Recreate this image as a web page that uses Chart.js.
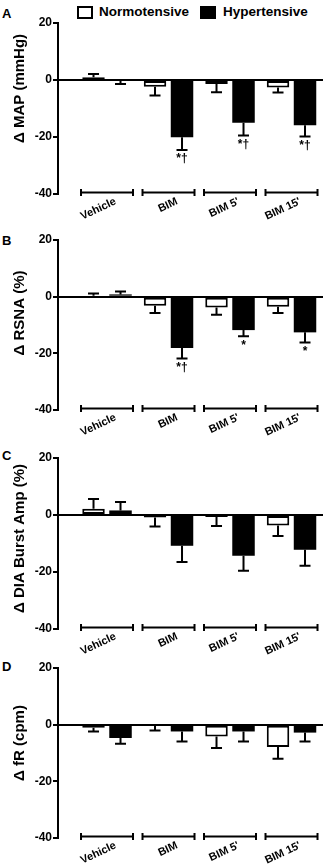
<!DOCTYPE html>
<html>
<head>
<meta charset="utf-8">
<script src="https://cdn.jsdelivr.net/npm/chart.js@4/dist/chart.umd.min.js"></script>
<style>
  html, body { margin:0; padding:0; background:#fff; }
  body { width:326px; height:868px; overflow:hidden; position:relative; font-family:'Liberation Sans', Arial, sans-serif; }
  canvas { position:absolute; left:0; }
  .box { position:absolute; box-sizing:border-box; border:2px solid #000; }
  .txt { position:absolute; font-weight:bold; color:#000; white-space:nowrap; }
</style>
</head>
<body>
<div class="box" style="left:77px;top:6px;width:16px;height:13px;background:#fff"></div>
<div class="txt" style="left:99px;top:4px;font-size:13.5px;line-height:16px">Normotensive</div>
<div class="box" style="left:200px;top:6px;width:16px;height:13px;background:#000"></div>
<div class="txt" style="left:223px;top:4px;font-size:13.5px;line-height:16px">Hypertensive</div>
<div class="txt" style="left:2px;top:6px;font-size:13px;line-height:15px">A</div>
<div class="txt" style="left:2px;top:233px;font-size:13px;line-height:15px">B</div>
<div class="txt" style="left:2px;top:448px;font-size:13px;line-height:15px">C</div>
<div class="txt" style="left:2px;top:659px;font-size:13px;line-height:15px">D</div>
<canvas id="cA" width="326" height="232" style="top:0px"></canvas>
<canvas id="cB" width="326" height="232" style="top:217px"></canvas>
<canvas id="cC" width="326" height="232" style="top:435px"></canvas>
<canvas id="cD" width="326" height="232" style="top:645px"></canvas>
<script>
// ---- data ----
const categories = ['Vehicle', 'BIM', "BIM 5'", "BIM 15'"];
const seriesNames = ['Normotensive', 'Hypertensive'];
const yTicks = [20, 0, -20, -40];

// A: MAP (mmHg)
const mapNormo     = [1.0, -2.4, -1.4, -2.6];
const mapNormoErr  = [1.1, 3.0, 2.9, 1.8];
const mapHyper     = [-0.35, -20.1, -15.0, -15.9];
const mapHyperErr  = [1.05, 4.5, 4.5, 3.9];
const mapNotes     = ['', '*†', '*†', '*†'];

// B: RSNA (%)
const rsnaNormo    = [0.3, -3.2, -3.8, -3.6];
const rsnaNormoErr = [0.8, 2.6, 2.6, 2.2];
const rsnaHyper    = [0.8, -18.1, -11.8, -12.6];
const rsnaHyperErr = [1.0, 3.7, 2.2, 3.6];
const rsnaNotes    = ['', '*†', '*', '*'];

// C: DIA Burst Amp (%)
const diaNormo     = [2.2, -0.9, -0.7, -3.7];
const diaNormoErr  = [3.4, 3.1, 3.2, 3.7];
const diaHyper     = [1.6, -10.8, -14.3, -12.2];
const diaHyperErr  = [3.0, 5.7, 5.3, 5.6];
const diaNotes     = ['', '', '', ''];

// D: fR (cpm)
const frNormo      = [-1.1, -0.3, -4.2, -7.9];
const frNormoErr   = [1.3, 1.8, 4.0, 4.1];
const frHyper      = [-4.7, -2.4, -2.4, -2.8];
const frHyperErr   = [2.0, 3.5, 3.5, 3.1];
const frNotes      = ['', '', '', ''];

// ---- panels ----
const panels = [
  { canvas:'cA', title:'Δ MAP (mmHg)',       normo:mapNormo,  normoErr:mapNormoErr,  hyper:mapHyper,  hyperErr:mapHyperErr,  notes:mapNotes,  xH:38, titleShift:-20 },
  { canvas:'cB', title:'Δ RSNA (%)',          normo:rsnaNormo, normoErr:rsnaNormoErr, hyper:rsnaHyper, hyperErr:rsnaHyperErr, notes:rsnaNotes, xH:39, titleShift:-12 },
  { canvas:'cC', title:'Δ DIA Burst Amp (%)', normo:diaNormo,  normoErr:diaNormoErr,  hyper:diaHyper,  hyperErr:diaHyperErr,  notes:diaNotes,  xH:38, titleShift:-5 },
  { canvas:'cD', title:'Δ fR (cpm)',          normo:frNormo,   normoErr:frNormoErr,   hyper:frHyper,   hyperErr:frHyperErr,   notes:frNotes,   xH:39, titleShift:-10 }
];

const FONT = "'Liberation Sans', Arial, sans-serif";
Chart.defaults.font.family = FONT;
Chart.defaults.color = '#000';

const extras = {
  id: 'extras',
  afterDatasetsDraw(chart, args, opts) {
    const ctx = chart.ctx;
    const xs = chart.scales.x, ys = chart.scales.y;
    const area = chart.chartArea;
    ctx.save();
    ctx.strokeStyle = '#000';
    ctx.fillStyle = '#000';
    ctx.lineWidth = 2;
    // error bars (away from zero)
    chart.data.datasets.forEach((ds, di) => {
      const meta = chart.getDatasetMeta(di);
      meta.data.forEach((el, i) => {
        const v = ds.data[i].y;
        const e = ds.errors[i];
        const sign = v >= 0 ? 1 : -1;
        const yEnd = ys.getPixelForValue(v + sign * e);
        ctx.beginPath();
        ctx.moveTo(el.x, el.y);
        ctx.lineTo(el.x, yEnd);
        ctx.moveTo(el.x - 5.5, yEnd);
        ctx.lineTo(el.x + 5.5, yEnd);
        ctx.stroke();
        if (ds.notes && ds.notes[i]) {
          ctx.font = 'bold 12px ' + FONT;
          ctx.textAlign = 'center';
          ctx.textBaseline = 'top';
          ctx.fillText(ds.notes[i], el.x, yEnd + 3);
        }
      });
    });
    // category brackets
    const yb = area.bottom - 1.5;
    categories.forEach((c, i) => {
      const cx = xs.getPixelForValue(i);
      ctx.beginPath();
      ctx.moveTo(cx - 26, yb); ctx.lineTo(cx + 26, yb);
      ctx.moveTo(cx - 26, yb - 3.5); ctx.lineTo(cx - 26, yb + 3.5);
      ctx.moveTo(cx + 26, yb - 3.5); ctx.lineTo(cx + 26, yb + 3.5);
      ctx.stroke();
    });
    // y title
    ctx.font = 'bold 15px ' + FONT;
    ctx.textAlign = 'center';
    ctx.textBaseline = 'middle';
    ctx.translate(20, (area.top + area.bottom) / 2 + opts.titleShift);
    ctx.rotate(-Math.PI / 2);
    ctx.fillText(opts.title, 0, 0);
    ctx.restore();
  }
};

panels.forEach(p => {
  new Chart(document.getElementById(p.canvas), {
    type: 'bar',
    data: {
      datasets: [
        { label: seriesNames[0], data: categories.map((c, i) => ({ x: i, y: p.normo[i] })), errors: p.normoErr, notes: null,
          backgroundColor: '#fff', borderColor: '#000', borderWidth: 2, borderSkipped: false },
        { label: seriesNames[1], data: categories.map((c, i) => ({ x: i, y: p.hyper[i] })), errors: p.hyperErr, notes: p.notes,
          backgroundColor: '#000', borderColor: '#000', borderWidth: 0 }
      ]
    },
    options: {
      responsive: false,
      animation: false,
      devicePixelRatio: 1,
      categoryPercentage: 0.878,
      barPercentage: 0.833,
      layout: { padding: { top: 23, right: 3, left: 0, bottom: 0 } },
      plugins: {
        legend: { display: false },
        tooltip: { enabled: false },
        extras: { title: p.title, titleShift: p.titleShift }
      },
      scales: {
        x: {
          type: 'linear',
          offset: false,
          min: -0.797,
          max: 3.512,
          grid: { display: false, drawTicks: false },
          border: { display: false },
          afterBuildTicks: s => { s.ticks = categories.map((c, i) => ({ value: i + 0.14 })); },
          afterFit: s => { s.height = p.xH; },
          ticks: {
            autoSkip: false,
            minRotation: 25, maxRotation: 25,
            padding: 1,
            font: { size: 11, weight: 'bold' },
            color: '#000',
            callback: (v, idx) => categories[idx]
          }
        },
        y: {
          min: -40, max: 20,
          afterBuildTicks: s => { s.ticks = yTicks.map(v => ({ value: v })); },
          afterFit: s => { s.width = 58; },
          border: { display: true, color: '#000', width: 2 },
          grid: {
            color: c => (c.tick && c.tick.value === 0) ? '#000' : 'rgba(0,0,0,0)',
            lineWidth: 2,
            tickColor: '#000',
            tickWidth: 2,
            tickLength: 5,
            drawTicks: true
          },
          ticks: { font: { size: 12, weight: 'bold' }, color: '#000', padding: 1 }
        }
      }
    },
    plugins: [extras]
  });
});
</script>
</body>
</html>
